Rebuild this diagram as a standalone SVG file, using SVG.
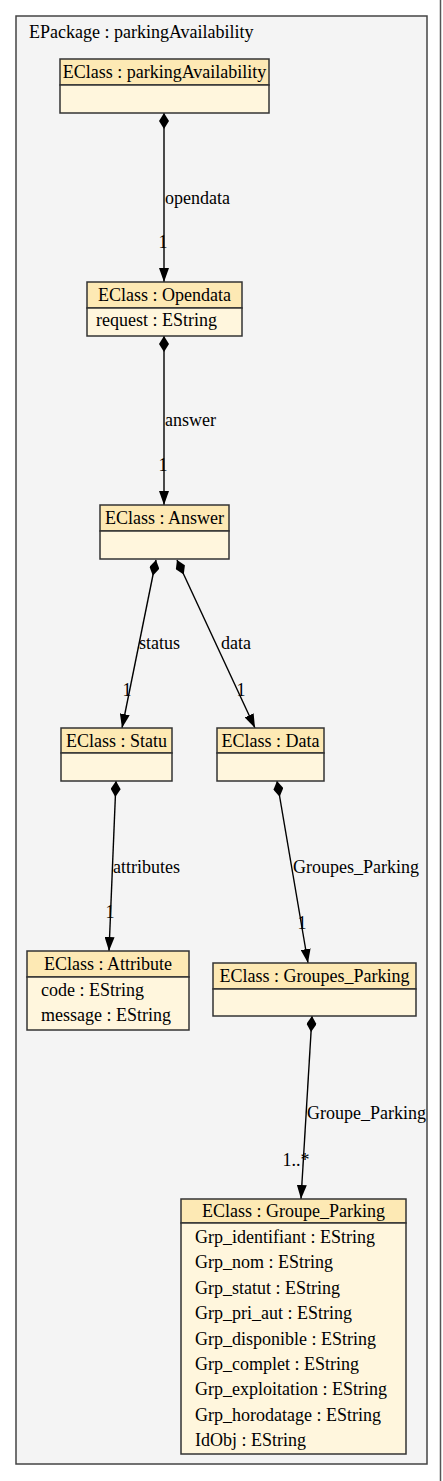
<svg xmlns="http://www.w3.org/2000/svg" width="443" height="1481" viewBox="0 0 443 1481" font-family="'Liberation Serif', 'DejaVu Serif', serif" font-size="18">
<style>
text{font-family:'Liberation Serif','DejaVu Serif',serif;font-size:18px;fill:#000}
.hd{fill:#fde9b4;stroke:#333;stroke-width:1.5}
.bd{fill:#fff6dd;stroke:#333;stroke-width:1.5}
.c{text-anchor:middle}
.e{fill:none;stroke:#000;stroke-width:1.4;marker-start:url(#dia);marker-end:url(#arr)}
</style>
<defs>
<marker id="arr" markerUnits="userSpaceOnUse" markerWidth="14" markerHeight="10" refX="14" refY="5" orient="auto"><path d="M0,0 L14,5 L0,10 z" fill="#000"/></marker>
<marker id="dia" markerUnits="userSpaceOnUse" markerWidth="16" markerHeight="10" refX="0" refY="5" orient="auto"><path d="M0,5 L8,0 L16,5 L8,10 z" fill="#000"/></marker>
</defs>
<rect x="0" y="0" width="443" height="1481" fill="#fff"/>
<line x1="440.5" y1="0" x2="440.5" y2="1481" stroke="#555" stroke-width="1.5"/>
<g id="package">
<rect x="16" y="16" width="411" height="1448" fill="#f4f4f4" stroke="#444" stroke-width="1.5"/>
<text x="29" y="38">EPackage : parkingAvailability</text>
</g>
<g id="connectors">
<path class="e" d="M164,113 L164,282"/>
<path class="e" d="M164,336 L164,505"/>
<path class="e" d="M156,560 L122,728"/>
<path class="e" d="M177,560 L255,728"/>
<path class="e" d="M116,781 L109,951"/>
<path class="e" d="M277,781 L308,963"/>
<path class="e" d="M312,1016 L301,1199"/>
<text x="165" y="204">opendata</text>
<text x="163" y="248" class="c">1</text>
<text x="165" y="426">answer</text>
<text x="163" y="471" class="c">1</text>
<text x="139" y="649">status</text>
<text x="127" y="696" class="c">1</text>
<text x="221" y="649">data</text>
<text x="241" y="696" class="c">1</text>
<text x="113" y="873">attributes</text>
<text x="110" y="918" class="c">1</text>
<text x="293" y="873">Groupes_Parking</text>
<text x="302" y="929" class="c">1</text>
<text x="307" y="1119">Groupe_Parking</text>
<text x="296" y="1166" class="c">1..*</text>
</g>
<g id="parkingAvailability">
<rect class="hd" x="60" y="59" width="209" height="26"/>
<rect class="bd" x="60" y="85" width="209" height="28"/>
<text x="164.5" y="78" class="c">EClass : parkingAvailability</text>
</g>
<g id="Opendata">
<rect class="hd" x="87" y="282" width="155" height="26"/>
<rect class="bd" x="87" y="308" width="155" height="28"/>
<text x="164.5" y="301" class="c">EClass : Opendata</text>
<text x="96" y="326">request : EString</text>
</g>
<g id="Answer">
<rect class="hd" x="100" y="505" width="129" height="26"/>
<rect class="bd" x="100" y="531" width="129" height="28"/>
<text x="164.5" y="524" class="c">EClass : Answer</text>
</g>
<g id="Statu">
<rect class="hd" x="61" y="728" width="111" height="25"/>
<rect class="bd" x="61" y="753" width="111" height="28"/>
<text x="116.5" y="746.5" class="c">EClass : Statu</text>
</g>
<g id="Data">
<rect class="hd" x="217" y="728" width="107" height="25"/>
<rect class="bd" x="217" y="753" width="107" height="28"/>
<text x="270.5" y="746.5" class="c">EClass : Data</text>
</g>
<g id="Attribute">
<rect class="hd" x="27" y="951" width="162" height="26"/>
<rect class="bd" x="27" y="977" width="162" height="53"/>
<text x="108" y="970" class="c">EClass : Attribute</text>
<text x="41" y="996">code : EString</text>
<text x="41" y="1021">message : EString</text>
</g>
<g id="Groupes_Parking">
<rect class="hd" x="213" y="963" width="203" height="26"/>
<rect class="bd" x="213" y="989" width="203" height="27"/>
<text x="314.5" y="982" class="c">EClass : Groupes_Parking</text>
</g>
<g id="Groupe_Parking">
<rect class="hd" x="181" y="1199" width="225" height="24"/>
<rect class="bd" x="181" y="1223" width="225" height="231"/>
<text x="293.5" y="1217" class="c">EClass : Groupe_Parking</text>
<text x="195" y="1243">Grp_identifiant : EString</text>
<text x="195" y="1268.4">Grp_nom : EString</text>
<text x="195" y="1293.8">Grp_statut : EString</text>
<text x="195" y="1319.2">Grp_pri_aut : EString</text>
<text x="195" y="1344.6">Grp_disponible : EString</text>
<text x="195" y="1370">Grp_complet : EString</text>
<text x="195" y="1395.4">Grp_exploitation : EString</text>
<text x="195" y="1420.8">Grp_horodatage : EString</text>
<text x="195" y="1446">IdObj : EString</text>
</g>
</svg>
